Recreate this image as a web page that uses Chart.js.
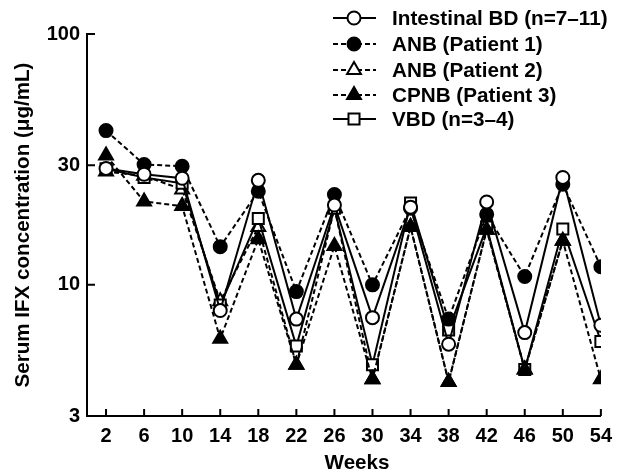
<!DOCTYPE html>
<html>
<head>
<meta charset="utf-8">
<script src="https://cdn.jsdelivr.net/npm/chart.js@4.4.1/dist/chart.umd.min.js"></script>
<style>
  html, body { margin: 0; padding: 0; background: #fff; }
  #wrap { width: 620px; height: 473px; position: relative; }
</style>
</head>
<body>
<div id="wrap"><canvas id="ifxChart"></canvas></div>
<script>
const weeks = [2, 6, 10, 14, 18, 22, 26, 30, 34, 38, 42, 46, 50, 54];
const yTicks = [3, 10, 30, 100];

const intestinalBD = [29.1, 27.6, 26.6, 7.9, 26.1, 7.3, 20.8, 7.4, 20.4, 5.8, 21.4, 6.45, 26.8, 6.9];
const anbPatient1 = [41.2, 30.2, 29.7, 14.2, 23.6, 9.4, 22.9, 10.0, 20.2, 7.3, 19.1, 10.8, 25.2, 11.8];
const anbPatient2 = [28.3, 27.2, 24.0, 8.6, 17.0, 4.8, 20.2, 4.2, 17.0, 4.1, 16.6, 4.6, 15.0, null];
const cpnbPatient3 = [32.8, 21.5, 20.6, 6.1, 15.2, 4.8, 14.3, 4.2, 17.0, 4.1, 16.6, 4.6, 15.0, 4.2];
const vbd = [29.0, 26.8, 25.4, 8.3, 18.4, 5.7, 20.2, 4.8, 21.2, 6.6, 17.0, 4.6, 16.7, 5.95];

const FONT = "'Liberation Sans', Arial, sans-serif";
const DASH = [5, 3];

function series(label, values, style, filled, dashed, radius, order) {
    return {
        label,
        data: values.map((v, i) => ({ x: weeks[i], y: v })),
        order,
        borderColor: '#000',
        borderWidth: 2,
        borderDash: dashed ? DASH : [],
        pointStyle: style,
        pointRadius: radius,
        pointHoverRadius: radius,
        pointBorderWidth: 2,
        pointBorderColor: '#000',
        pointBackgroundColor: filled ? '#000' : '#fff',
        fill: false,
        tension: 0,
        spanGaps: false
    };
}

// legend, x title and inward ticks
const decorations = {
    id: 'decorations',
    afterDraw(chart) {
        const ctx = chart.ctx;
        const xs = chart.scales.x;
        const ys = chart.scales.y;
        ctx.save();
        ctx.strokeStyle = '#000';
        ctx.lineWidth = 2;
        ctx.setLineDash([]);
        ctx.beginPath();
        weeks.forEach(w => {
            const px = xs.getPixelForValue(w);
            ctx.moveTo(px, ys.bottom);
            ctx.lineTo(px, ys.bottom - 7);
        });
        yTicks.slice(1).forEach(v => {
            const py = ys.getPixelForValue(v);
            ctx.moveTo(xs.left, py);
            ctx.lineTo(xs.left + 8, py);
        });
        ctx.stroke();

        ctx.fillStyle = '#000';
        ctx.font = 'bold 20.6px ' + FONT;
        ctx.textAlign = 'center';
        ctx.textBaseline = 'middle';
        ctx.fillText('Weeks', 357, 463);

        const rows = [18, 44, 70, 95, 119];
        chart.data.datasets.forEach((ds, i) => {
            const y = rows[i];
            ctx.strokeStyle = '#000';
            ctx.lineWidth = 2;
            ctx.setLineDash(ds.borderDash);
            ctx.beginPath();
            ctx.moveTo(333, y);
            ctx.lineTo(376, y);
            ctx.stroke();
            ctx.setLineDash([]);
            ctx.fillStyle = ds.pointBackgroundColor;
            ctx.strokeStyle = '#000';
            Chart.helpers.drawPoint(ctx, {
                pointStyle: ds.pointStyle,
                radius: ds.pointRadius,
                rotation: 0,
                borderWidth: 2
            }, 354, y);
            ctx.fillStyle = '#000';
            ctx.font = 'bold 20.7px ' + FONT;
            ctx.textBaseline = 'middle';
            ctx.textAlign = 'left';
            ctx.fillText(ds.label, 392, y + 1);
        });
        ctx.restore();
    }
};

const ctx = document.getElementById('ifxChart').getContext('2d');
new Chart(ctx, {
    type: 'line',
    data: {
        datasets: [
            series('Intestinal BD (n=7–11)', intestinalBD, 'circle', false, false, 6.5, 0),
            series('ANB (Patient 1)', anbPatient1, 'circle', true, true, 6.5, 1),
            series('ANB (Patient 2)', anbPatient2, 'triangle', false, true, 8, 10),
            series('CPNB (Patient 3)', cpnbPatient3, 'triangle', true, true, 8, 3),
            series('VBD (n=3–4)', vbd, 'rect', false, false, 7.8, 4)
        ]
    },
    options: {
        responsive: true,
        maintainAspectRatio: false,
        animation: false,
        layout: { padding: { top: 34, right: 12, left: 0, bottom: 0 } },
        plugins: {
            legend: { display: false },
            tooltip: { enabled: false }
        },
        scales: {
            x: {
                type: 'linear',
                min: 0,
                max: 54,
                afterBuildTicks: scale => { scale.ticks = weeks.map(v => ({ value: v })); },
                afterFit: scale => { scale.height = 57; },
                grid: { display: true, drawOnChartArea: false, drawTicks: false },
                border: { display: true, color: '#000', width: 2 },
                ticks: {
                    color: '#000',
                    padding: 8,
                    maxRotation: 0,
                    autoSkip: false,
                    font: { family: FONT, size: 20, weight: 'bold' },
                    callback: v => String(v)
                },
                title: { display: false }
            },
            y: {
                type: 'logarithmic',
                min: 3,
                max: 100,
                afterBuildTicks: scale => { scale.ticks = yTicks.map(v => ({ value: v })); },
                afterFit: scale => { scale.width = 87; },
                grid: { display: true, drawOnChartArea: false, drawTicks: false },
                border: { display: true, color: '#000', width: 2 },
                ticks: {
                    color: '#000',
                    padding: 7,
                    autoSkip: false,
                    font: { family: FONT, size: 20, weight: 'bold' },
                    callback: v => String(v)
                },
                title: {
                    display: true,
                    text: 'Serum IFX concentration (μg/mL)',
                    color: '#000',
                    padding: { top: 11, bottom: 0 },
                    font: { family: FONT, size: 20.6, weight: 'bold' }
                }
            }
        }
    },
    plugins: [decorations]
});
</script>
</body>
</html>
